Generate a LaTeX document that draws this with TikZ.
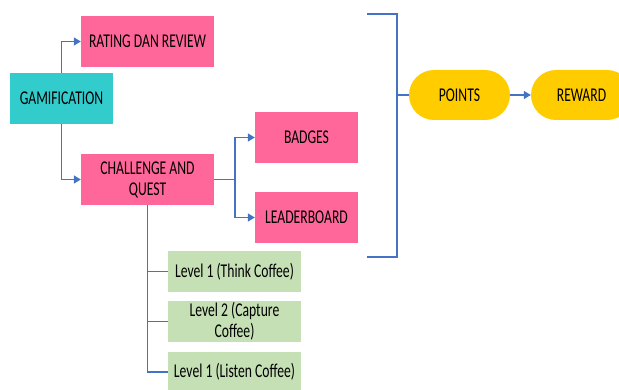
\documentclass[tikz,border=0pt]{standalone}
\usepackage{fontspec}
\setmainfont{Carlito}[FakeStretch=0.7]
\usepackage{xcolor}
\usepackage{tikz}
\usetikzlibrary{positioning, arrows.meta}
\definecolor{pinkbox}{HTML}{FF6699}
\definecolor{tealbox}{HTML}{33CCCC}
\definecolor{greenbox}{HTML}{C5E0B4}
\definecolor{goldbox}{HTML}{FFCC00}
\definecolor{linkblue}{HTML}{4472C4}

\begin{document}
\begin{tikzpicture}[
    x=1pt, y=-1pt,
    font=\fontsize{19.5}{21}\selectfont,
    base/.style={rectangle, draw=none, align=center, inner sep=1pt},
    gam/.style={base, fill=tealbox, minimum width=103pt, minimum height=51pt},
    pink/.style={base, fill=pinkbox, minimum width=133pt, minimum height=51pt},
    pinksm/.style={base, fill=pinkbox, minimum width=103pt, minimum height=51pt},
    lvl/.style={base, fill=greenbox, minimum width=133pt, minimum height=41pt},
    pill/.style={base, fill=goldbox, rounded corners=25pt, minimum width=101pt, minimum height=50pt},
    link/.style={draw=linkblue, line width=1.3pt},
    arr/.style={link, -{Triangle[length=7pt, width=8pt]}}
]
\clip (0,0) rectangle (619,390);
\node[gam] (gamif) at (61.5,98.5) {GAMIFICATION};
\node[pink] (rating) at (147.5,41.5) {RATING DAN REVIEW};
\node[pink] (chall) at (147.5,179.5) {CHALLENGE AND\\QUEST};
\node[pinksm] (badges) at (306.5,137.5) {BADGES};
\node[pinksm] (leader) at (306.5,217.5) {LEADERBOARD};
\node[lvl] (lvla) at (234.5,271.5) {Level 1 (Think Coffee)};
\node[lvl] (lvlb) at (234.5,321.5) {Level 2 (Capture\\Coffee)};
\node[lvl] (lvlc) at (234.5,372) {Level 1 (Listen Coffee)};
\node[pill] (points) at (459.5,95) {POINTS};
\node[pill] (reward) at (581.5,95) {REWARD};
% bracket round badges and leaderboard
\coordinate (brtl) at (367,14);
\coordinate (brtr) at (397,14);
\coordinate (brbr) at (397,257);
\coordinate (brbl) at (367,257);
\coordinate (split) at (235,179.5);
\draw[arr] (gamif.north) |- (rating.west);
\draw[arr] (gamif.south) |- (chall.west);
\draw[link] (chall.east) -- (split);
\draw[arr] (split) |- (badges.west);
\draw[arr] (split) |- (leader.west);
\draw[link] (chall.south) |- (lvla.west);
\draw[link] (chall.south) |- (lvlb.west);
\draw[link] (chall.south) |- (lvlc.west);
\draw[link] (brtl) -- (brtr) -- (brbr) -- (brbl);
\draw[link] (brtr |- points.west) -- (points.west);
\draw[arr] (points) -- (reward);
\end{tikzpicture}
\end{document}
